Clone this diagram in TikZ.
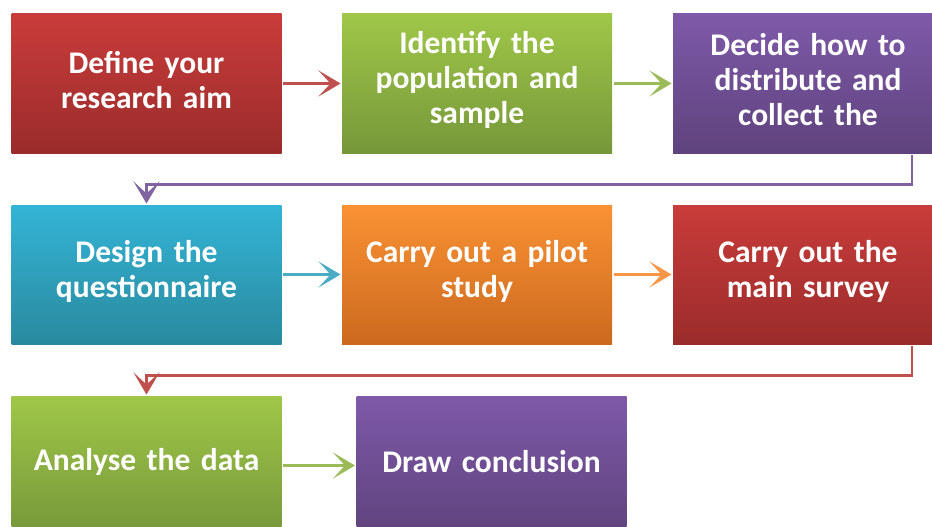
\documentclass[tikz,border=0pt]{standalone}
\usepackage{fontspec}
\setmainfont{Carlito}
\usetikzlibrary{arrows.meta,positioning}

\definecolor{topred}{HTML}{C93C3A}    \definecolor{botred}{HTML}{9A2C2B}
\definecolor{topgreen}{HTML}{9FC748}  \definecolor{botgreen}{HTML}{76973A}
\definecolor{toppurple}{HTML}{7E59A9} \definecolor{botpurple}{HTML}{5F437D}
\definecolor{topcyan}{HTML}{33B4D6}   \definecolor{botcyan}{HTML}{2A8A9F}
\definecolor{toporange}{HTML}{FA9234} \definecolor{botorange}{HTML}{CB691E}
\definecolor{linered}{HTML}{C0504D}
\definecolor{linegreen}{HTML}{9BBB59}
\definecolor{linepurple}{HTML}{8064A2}
\definecolor{linecyan}{HTML}{4BACC6}
\definecolor{lineorange}{HTML}{F79646}

\begin{document}
\begin{tikzpicture}[x=1pt,y=-1pt,line width=3pt,
    >={Stealth[length=22pt,width=26pt,inset=12pt]}]
  \tikzstyle{stepbox}=[rectangle,minimum width=270pt,minimum height=139pt,
    inner sep=0pt,text width=260pt,align=center,text=white,
    font=\fontsize{31.5}{35}\selectfont\bfseries,
    execute at end node=\vspace{7pt}]

  \useasboundingbox (0,0) rectangle (932,527);
  \clip (0,0) rectangle (932,527);

  \foreach \name/\x/\y/\c/\text in {
      1/146.5/83.5/red/{Define your\\research aim},
      2/477/83.5/green/{Identify the\\population and\\sample},
      3/808/83.5/purple/{Decide how to\\distribute and\\collect the},
      4/146.5/274.5/cyan/{Design the\\questionnaire},
      5/477/274.5/orange/{Carry out a pilot\\study},
      6/808/274.5/red/{Carry out the\\main survey},
      7/146.5/465.5/green/{Analyse the data},
      8/491.5/465.5/purple/{Draw conclusion}}
    \node[stepbox,top color=top\c,bottom color=bot\c] (S-\name) at (\x,\y) {\text};

  \foreach \from/\to/\c in {1/2/red, 2/3/green, 4/5/cyan, 5/6/orange, 7/8/green}
    \draw[->,line\c] (S-\from) -- (S-\to);

  \coordinate (turn-1) at ([xshift=104pt]S-3.south);
  \coordinate (turn-2) at ([xshift=104pt]S-6.south);
  \draw[->,linepurple,line width=2.5pt] (turn-1) -- ++(0,30) -| (S-4);
  \draw[->,linered,line width=2.5pt] (turn-2) -- ++(0,30) -| (S-7);
\end{tikzpicture}
\end{document}
